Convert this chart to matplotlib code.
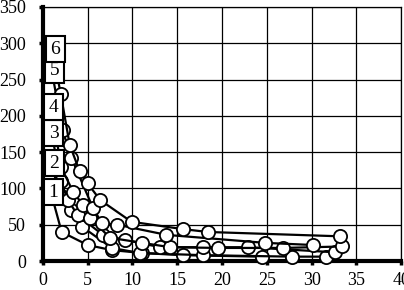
import matplotlib
matplotlib.use("Agg")
import matplotlib.pyplot as plt

# Data
s1_x = [1.0, 2.1, 5.0, 7.7, 11.1, 15.6, 24.5]
s1_y = [90, 40, 22, 15, 11, 8, 6]
s2_x = [1.0, 2.0, 3.2, 4.4, 7.7, 10.8, 17.9, 27.8, 31.6]
s2_y = [130, 90, 70, 47, 18, 11, 8, 6, 6]
s3_x = [1.0, 2.0, 2.8, 3.9, 6.7, 9.2, 13.1, 17.9, 22.9, 32.6]
s3_y = [175, 110, 84, 63, 36, 29, 19, 19, 19, 12]
s4_x = [1.0, 2.0, 3.4, 4.5, 5.3, 7.5, 11.1, 14.2, 19.6, 26.8, 33.4]
s4_y = [215, 130, 95, 77, 59, 32, 25, 19, 18, 18, 20]
s5_x = [1.0, 2.2, 3.2, 5.6, 6.6, 8.3, 13.8, 24.8, 30.2]
s5_y = [262, 180, 142, 73, 52, 50, 36, 25, 22]
s6_x = [1.0, 2.0, 3.0, 4.1, 5.0, 6.4, 9.9, 15.6, 18.4, 33.2]
s6_y = [295, 230, 160, 124, 107, 84, 54, 44, 40, 34]

series_x = [s1_x, s2_x, s3_x, s4_x, s5_x, s6_x]
series_y = [s1_y, s2_y, s3_y, s4_y, s5_y, s6_y]
labels = ["1", "2", "3", "4", "5", "6"]
label_x = [1.2, 1.3, 1.2, 1.2, 1.3, 1.4]
label_y = [95, 135, 176, 212, 263, 292]

x_ticks = [0, 5, 10, 15, 20, 25, 30, 35, 40]
y_ticks = [0, 50, 100, 150, 200, 250, 300, 350]

plt.rcParams['font.family'] = ['Liberation Serif', 'DejaVu Serif']

fig = plt.figure(figsize=(4.04, 2.90), dpi=100)
ax = fig.add_axes([0.106, 0.10, 0.887, 0.876])

for xs, ys in zip(series_x, series_y):
    ax.plot(xs, ys, color='black', lw=1.6, marker='o', ms=9.5,
            mfc='white', mec='black', mew=1.3, zorder=3, clip_on=False)

for lx, ly, t in zip(label_x, label_y, labels):
    ax.text(lx, ly, t, fontsize=14, ha='center', va='center', zorder=5,
            bbox=dict(boxstyle='square,pad=0.22', fc='white', ec='black', lw=1.5))

ax.set_xlim(0, 40)
ax.set_ylim(0, 350)
ax.set_xticks(x_ticks)
ax.set_yticks(y_ticks)
ax.grid(True, color='black', lw=0.9, zorder=0)
ax.set_axisbelow(True)
for side in ['top', 'right']:
    ax.spines[side].set_linewidth(0.9)
for side in ['left', 'bottom']:
    ax.spines[side].set_linewidth(3)
ax.tick_params(axis='both', direction='out', length=3, width=2.5,
               labelsize=13)
ax.tick_params(axis='x', pad=5)
ax.tick_params(axis='y', pad=9)

fig.savefig('out.png', dpi=100)
